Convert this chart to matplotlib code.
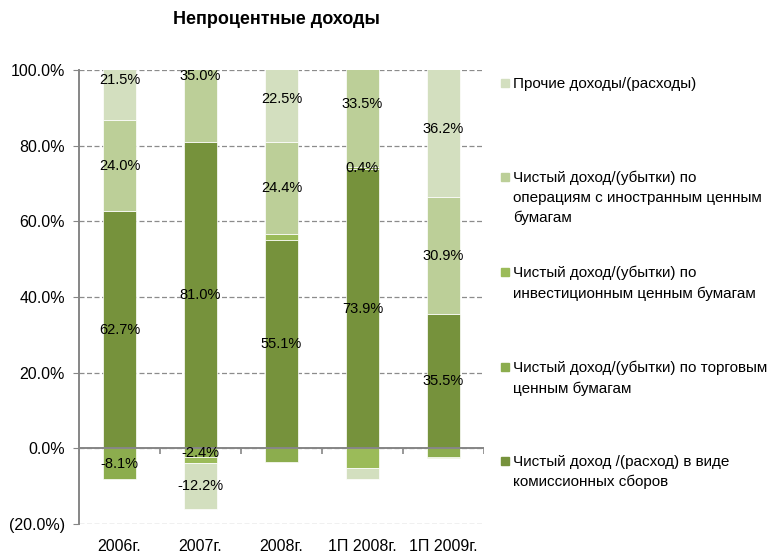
import matplotlib
matplotlib.use("Agg")
import matplotlib.pyplot as plt
import numpy as np
from matplotlib.patches import Rectangle

plt.rcParams["font.family"] = ["Liberation Sans", "DejaVu Sans"]

categories = ["2006г.", "2007г.", "2008г.", "1П 2008г.", "1П 2009г."]

# stacking order (bottom to top), values in percent
series_names = [
    "Чистый доход /(расход) в виде\nкомиссионных сборов",
    "Чистый доход/(убытки) по торговым\nценным бумагам",
    "Чистый доход/(убытки) по\nинвестиционным ценным бумагам",
    "Чистый доход/(убытки) по\nоперациям с иностранным ценным\nбумагам",
    "Прочие доходы/(расходы)",
]
commission = [62.7, 81.0, 55.1, 73.9, 35.5]
trading = [-8.1, -2.4, -3.5, 0.4, -2.2]
investment = [0.0, -1.5, 1.5, -5.3, -0.4]
foreign = [24.0, 35.0, 24.4, 33.5, 30.9]
other = [21.5, -12.2, 22.5, -2.9, 36.2]

# which values carry a data label
commission_lbl = [True, True, True, True, True]
trading_lbl = [True, True, False, True, False]
investment_lbl = [False, False, False, False, False]
foreign_lbl = [True, True, True, True, True]
other_lbl = [True, True, True, False, True]

colors = ["#76923C", "#8CAD4E", "#9BBB59", "#BCCF98", "#D3DFBF"]

series = [commission, trading, investment, foreign, other]
labelled = [commission_lbl, trading_lbl, investment_lbl, foreign_lbl, other_lbl]

fig = plt.figure(figsize=(7.72, 5.56), dpi=100)
ax = fig.add_axes([79 / 772, 1 - 524 / 556, 405 / 772, 454 / 556])

x = np.arange(len(categories))
pos_bottom = np.zeros(len(categories))
neg_bottom = np.zeros(len(categories))
for vals, lbls, col in zip(series, labelled, colors):
    vals = np.array(vals)
    bottom = np.where(vals >= 0, pos_bottom, neg_bottom)
    ax.bar(x, vals, width=0.4, bottom=bottom, color=col,
           edgecolor="white", linewidth=0.5, zorder=3)
    for i, (v, b, show) in enumerate(zip(vals, bottom, lbls)):
        if show and v != 0:
            ax.text(i, b + v / 2, f"{v:.1f}%", ha="center", va="center",
                    fontsize=10.5, zorder=5, clip_on=False)
    pos_bottom = np.where(vals >= 0, pos_bottom + vals, pos_bottom)
    neg_bottom = np.where(vals < 0, neg_bottom + vals, neg_bottom)

ax.set_xlim(-0.5, len(categories) - 0.5)
ax.set_ylim(-20, 100)
ax.set_yticks(np.arange(-20, 101, 20))
ax.set_yticklabels([f"({abs(t):.1f}%)" if t < 0 else f"{t:.1f}%"
                    for t in np.arange(-20, 101, 20)], fontsize=11.5)
ax.grid(axis="y", color="#8C8C8C", linestyle=(0, (4, 2)), linewidth=0.9, zorder=1)
ax.tick_params(axis="y", length=4, color="#868686", pad=6)

ax.set_xticks(x)
ax.set_xticklabels(categories, fontsize=11.5)
ax.tick_params(axis="x", length=0, pad=11)

for side in ["top", "right", "bottom"]:
    ax.spines[side].set_visible(False)
ax.spines["left"].set_color("#868686")
ax.spines["left"].set_linewidth(1.4)

ax.axhline(0, color="#868686", linewidth=1.4, zorder=4)
ax.vlines(np.arange(len(categories) + 1) - 0.5, -1.4, 0, color="#868686",
          linewidth=1.2, zorder=4)

fig.text(276 / 772, 1 - 20 / 556, "Непроцентные доходы", ha="center",
         va="center", fontsize=13, fontweight="bold")

# legend drawn by hand, top entry first
legend_y = [83, 177, 272, 367, 461]
for name, col, yy in zip(series_names[::-1], colors[::-1], legend_y):
    fig.patches.append(Rectangle((501 / 772, 1 - (yy + 4) / 556), 8 / 772, 8 / 556,
                                 transform=fig.transFigure, color=col))
    fig.text(513 / 772, 1 - (yy - 6) / 556, name, ha="left", va="top",
             fontsize=11, linespacing=1.5)

fig.savefig("out.png", dpi=100)
